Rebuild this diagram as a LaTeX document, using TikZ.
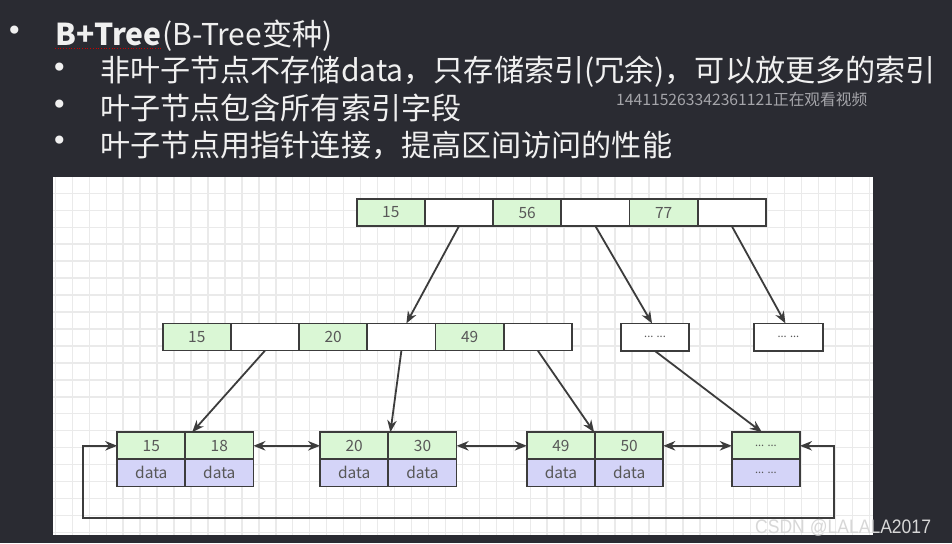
\documentclass[tikz,border=0pt]{standalone}
\usepackage{fontspec}
\setmainfont{Noto Sans CJK SC}
\newfontfamily\bulletfont{DejaVu Sans}
\newfontfamily\csdnfont{Liberation Sans}
\usetikzlibrary{arrows.meta}
\definecolor{bgdark}{RGB}{42,43,50}
\definecolor{gridc}{RGB}{234,234,234}
\definecolor{cellgreen}{RGB}{218,247,213}
\definecolor{cellpurple}{RGB}{212,212,248}
\definecolor{edgec}{RGB}{60,60,60}
\definecolor{celltext}{RGB}{88,88,88}
\definecolor{headtext}{RGB}{240,240,240}
\definecolor{wmtext}{RGB}{165,165,170}
\definecolor{csdntext}{RGB}{215,215,215}
\tikzset{
  cellbase/.style={draw=edgec, line width=1.7, minimum width=68.2, minimum height=27.2,
    inner sep=0, outer sep=0, text=celltext, font=\fontsize{15.5}{16}\selectfont},
  keyc/.style={cellbase, fill=cellgreen},
  ptrc/.style={cellbase, fill=white},
  datac/.style={cellbase, fill=cellpurple},
  dotsc/.style={font=\fontsize{11}{12}\selectfont},
  conn/.style={draw=edgec, line width=1.8, -{Stealth[length=12,width=9.5]}},
  conn2/.style={draw=edgec, line width=1.8, {Stealth[length=12,width=9.5]}-{Stealth[length=12,width=9.5]}},
  headline/.style={text=headtext, font=\fontsize{30.1}{31}\selectfont, anchor=base west, inner sep=0},
  bulletc/.style={text=headtext, font=\bulletfont\fontsize{28}{30}\selectfont, inner sep=0}
}
\begin{document}
\begin{tikzpicture}[x=1pt,y=-1pt]
\useasboundingbox (0,0) rectangle (952,543);
\fill[bgdark] (0,0) rectangle (952,543);
% canvas
\fill[white] (53,177) rectangle (873,535);
\begin{scope}
  \clip (53,177) rectangle (873,535);
  \foreach \i in {0,...,48} \draw[gridc, line width=1.4] ({55.34+16.96*\i},177) -- ++(0,358);
  \foreach \i in {0,...,21} \draw[gridc, line width=1.4] (53,{176.34+16.96*\i}) -- ++(820,0);
\end{scope}

% header text
\node[bulletc] (bu1) at (14.5,33.5) {•};
\node[bulletc] (bu2) at (59.5,70.5) {•};
\node[bulletc] (bu3) at (59.5,107.5) {•};
\node[bulletc] (bu4) at (59.5,143) {•};
\node[headline] (bt) at (55,45.5) {\bfseries B+Tree};
\node[headline] (l1) at (bt.base east) {(B-Tree变种)};
\draw[red!80!black, dotted, line width=0.7] ([yshift=-3pt]bt.base west) -- ([yshift=-3pt]bt.base east);
\node[headline] (l2) at (100,81.5) {非叶子节点不存储data，只存储索引(冗余)，可以放更多的索引};
\node[headline] (l3) at (100,119.5) {叶子节点包含所有索引字段};
\node[headline] (l4) at (100,156) {叶子节点用指针连接，提高区间访问的性能};
\node[text=wmtext, font=\fontsize{15.7}{16}\selectfont, anchor=base west, inner sep=0] (wm) at (616,105.5) {144115263342361121正在观看视频};

% top node
\node[keyc] (t1) at (390.8,212.5) {15};
\node[ptrc] (t2) at (459.0,212.5) {};
\node[keyc] (t3) at (527.2,212.5) {56};
\node[ptrc] (t4) at (595.4,212.5) {};
\node[keyc] (t5) at (663.6,212.5) {77};
\node[ptrc] (t6) at (731.8,212.5) {};

% middle node
\node[keyc] (m1) at (196.8,337) {15};
\node[ptrc] (m2) at (265.0,337) {};
\node[keyc] (m3) at (333.2,337) {20};
\node[ptrc] (m4) at (401.4,337) {};
\node[keyc] (m5) at (469.6,337) {49};
\node[ptrc] (m6) at (537.8,337) {};

% other internal nodes
\node[ptrc, minimum width=68.6, minimum height=27.6, dotsc] (b1) at (655,337.2) {... ...};
\node[ptrc, minimum width=68.6, minimum height=27.6, dotsc] (b2) at (788.4,337.2) {... ...};

% leaves
\node[keyc] (l1a) at (151.3,445.8) {15};
\node[keyc] (l1b) at (219.3,445.8) {18};
\node[datac] (d1a) at (151.3,472.8) {data};
\node[datac] (d1b) at (219.3,472.8) {data};

\node[keyc] (l2a) at (354.2,445.8) {20};
\node[keyc] (l2b) at (422.5,445.8) {30};
\node[datac] (d2a) at (354.2,472.8) {data};
\node[datac] (d2b) at (422.5,472.8) {data};

\node[keyc] (l3a) at (560.9,445.8) {49};
\node[keyc] (l3b) at (629.2,445.8) {50};
\node[datac] (d3a) at (560.9,472.8) {data};
\node[datac] (d3b) at (629.2,472.8) {data};

\node[keyc, dotsc] (l4a) at (765.9,445.8) {... ...};
\node[datac, dotsc] (d4a) at (765.9,472.8) {... ...};

% tree arrows
\draw[conn] (t2.south) -- ([xshift=5pt]m4.north);
\draw[conn] (t4.south) -- ([xshift=-3pt]b1.north);
\draw[conn] (t6.south) -- ([xshift=-3pt]b2.north);
\draw[conn] (m2.south) -- ([xshift=7pt]l1b.north west);
\draw[conn] (m4.south) -- ([xshift=2pt]l2b.north west);
\draw[conn] (m6.south) -- ([xshift=-1pt]l3b.north west);
\draw[conn] (b1.south) -- ([xshift=-4pt]l4a.north);

% leaf links
\draw[conn2] (l1b.east) -- (l2a.west);
\draw[conn2] (l2b.east) -- (l3a.west);
\draw[conn2] (l3b.east) -- (l4a.west);
\coordinate (loopR) at (834,518.3);
\coordinate (loopL) at (83.3,518.3);
\draw[conn2] (l4a.east) -| (loopR) -- (loopL) |- (l1a.west);

% watermark
\node[text=csdntext, font=\csdnfont\fontsize{19.5}{20}\selectfont, xscale=0.9, anchor=base west, inner sep=0] (csdn) at (755,533) {CSDN @LALALA2017};
\end{tikzpicture}
\end{document}
